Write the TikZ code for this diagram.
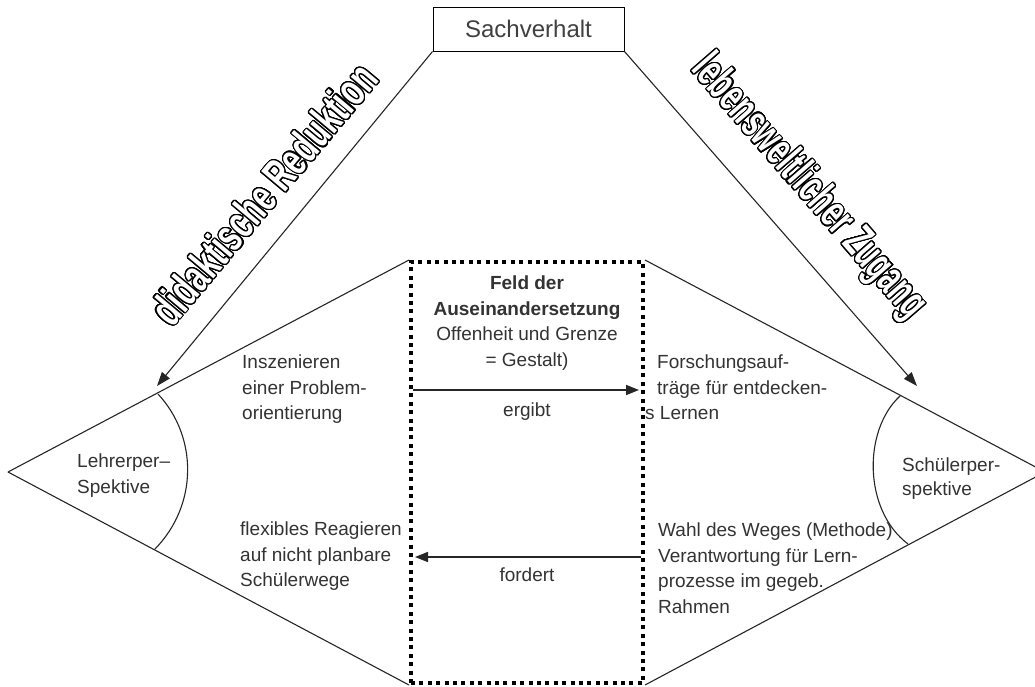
\documentclass[tikz,border=0pt]{standalone}
\usepackage{fontspec}
\setmainfont{Liberation Sans}
\usepackage{graphicx}
\usepackage[copies]{contour}
\usetikzlibrary{arrows.meta}
\contourlength{1.1pt}
\contournumber{32}
\begin{document}
\begin{tikzpicture}[x=1pt,y=-1pt,
  line/.style={line width=1.1pt, black!85},
  arr/.style={line, -{Triangle[length=14pt,width=10pt]}},
  harr/.style={line width=1.6pt, black!85, -{Triangle[length=13pt,width=10pt]}},
  txt/.style={inner sep=0pt, align=left, text=black!80, font=\fontsize{19}{25.5}\selectfont},
  rot/.style={inner sep=0pt, text=white, font=\fontsize{46}{46}\selectfont\bfseries},
  dotbox/.style={draw, line width=4pt, dash pattern=on 4pt off 4.4pt, minimum width=232pt, minimum height=421pt, inner sep=0pt}
]
\useasboundingbox (0,0) rectangle (1035,686);
\clip (0,0) rectangle (1035,686);
\fill[white] (0,0) rectangle (1035,686);

\node[draw, line width=1pt, minimum width=191pt, minimum height=44pt, inner sep=0pt,
      font=\fontsize{24}{28}\selectfont, text=black!75] (sach) at (528.5,29) {Sachverhalt};

\coordinate (L) at (8,472);
\coordinate (R) at (1045,472);
\node[dotbox] (field) at (527,472.5) {};
\draw[line] (L) -- (field.north west);
\draw[line] (field.north east) -- (R) -- (field.south east);
\draw[line] (field.south west) -- (L);

\coordinate (ltip) at (157,386);
\coordinate (rtip) at (917,386);
\draw[arr] (sach.south west) -- (ltip);
\draw[arr] (sach.south east) -- (rtip);

\coordinate (la1) at (158,394);
\coordinate (la2) at (155,549);
\draw[line] (la1) .. controls (198,437) and (198,505) .. (la2);
\coordinate (ra1) at (900,396);
\coordinate (ra2) at (908,544);
\draw[line] (ra1) .. controls (863,430) and (863,510) .. (ra2);

\coordinate (eA) at (413,390);
\coordinate (eB) at (639,390);
\draw[harr] (eA) -- (eB);
\coordinate (fA) at (641,557);
\coordinate (fB) at (415,557);
\draw[harr] (fA) -- (fB);

\node[txt, anchor=north west] (t1) at (242,355) {Inszenieren\\einer Problem-\\orientierung};
\node[txt, anchor=north west] (t2) at (657,355) {Forschungsauf-\\träge für entdecken-\\\hspace*{-12pt}s Lernen};
\node[txt, anchor=north west] (t3) at (240,522) {flexibles Reagieren\\auf nicht planbare\\Schülerwege};
\node[txt, anchor=north west] (t4) at (658,523) {Wahl des Weges (Methode)\\Verantwortung für Lern-\\prozesse im gegeb.\\Rahmen};
\node[txt, anchor=north west] (t5) at (77,454) {Lehrerper–\\Spektive};
\node[txt, anchor=north west, font=\fontsize{19}{23.5}\selectfont] (t6) at (902,458) {Schülerper-\\spektive};
\node[txt, align=center, anchor=north] (t7) at (527,276) {\textbf{Feld der}\\\textbf{Auseinandersetzung}\\Offenheit und Grenze\\= Gestalt)};
\node[txt] (t8) at (527,412) {ergibt};
\node[txt] (t9) at (527,575) {fordert};

\node[rot, rotate=50] (dr) at (264,194) {\contour{black}{\scalebox{0.66}[1]{didaktische Reduktion}}};
\node[rot, rotate=-49] (lz) at (808,188) {\contour{black}{\scalebox{0.62}[1]{lebensweltlicher Zugang}}};
\end{tikzpicture}
\end{document}
